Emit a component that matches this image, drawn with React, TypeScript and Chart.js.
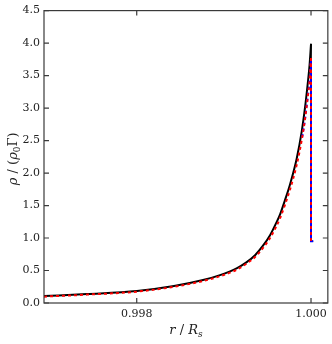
import React, { useEffect, useRef } from "react";
import { Chart, registerables } from "chart.js";

Chart.register(...registerables);

// r / R_s positions and density rho/(rho0 Gamma)
const rBlack = [0.996936, 0.99743, 0.998003, 0.998428, 0.998761, 0.998956, 0.999151, 0.999254, 0.999358, 0.999449, 0.99953, 0.999599, 0.999645, 0.999702, 0.999759, 0.999836, 0.999893, 0.999931, 0.999962, 0.999983, 1.0];
const rhoBlack = [0.107, 0.138, 0.184, 0.261, 0.353, 0.429, 0.537, 0.621, 0.736, 0.882, 1.043, 1.227, 1.365, 1.587, 1.825, 2.224, 2.638, 3.006, 3.374, 3.658, 3.988];

const rRed = [0.996936, 0.99743, 0.998003, 0.998428, 0.998761, 0.998956, 0.999151, 0.999254, 0.999358, 0.999449, 0.99953, 0.999599, 0.999645, 0.999702, 0.999759, 0.999836, 0.999893, 0.999931, 0.999962, 0.999983, 1.0];
const rhoRed = [0.098, 0.129, 0.175, 0.25, 0.339, 0.413, 0.515, 0.6, 0.707, 0.847, 1.0, 1.173, 1.305, 1.514, 1.747, 2.126, 2.506, 2.83, 3.167, 3.42, 3.77];

const rBlue = [0.999893, 0.999931, 0.999962, 0.999983, 1.0];
const rhoBlue = [2.506, 2.83, 3.167, 3.42, 3.77];

const rDrop = [1.0, 1.0, 1.000025];
const rhoDropBlack = [3.988, 0.95, 0.95];
const rhoDropRed = [3.77, 0.95, 0.95];

const xTicks = [0.998, 1.0];
const yTicks = [0, 0.5, 1, 1.5, 2, 2.5, 3, 3.5, 4, 4.5];
const xMin = 0.996936;
const xMax = 1.000193;

const pts = (xs: number[], ys: number[]) => xs.map((x, i) => ({ x, y: ys[i] }));

const FONT = "'DejaVu Serif', serif";

const framePlugin = {
  id: "frame",
  afterDraw(chart: any) {
    const { ctx, chartArea, scales } = chart;
    const { left, right, top, bottom } = chartArea;
    const x = scales.x;
    const y = scales.y;
    ctx.save();
    ctx.strokeStyle = "#3a3a3a";
    ctx.lineWidth = 1.2;
    ctx.strokeRect(left, top, right - left, bottom - top);
    const L = 5;
    ctx.beginPath();
    x.ticks.forEach((t: any) => {
      const px = x.getPixelForValue(t.value);
      ctx.moveTo(px, bottom);
      ctx.lineTo(px, bottom - L);
      ctx.moveTo(px, top);
      ctx.lineTo(px, top + L);
    });
    y.ticks.forEach((t: any) => {
      const py = y.getPixelForValue(t.value);
      ctx.moveTo(left, py);
      ctx.lineTo(left + L, py);
      ctx.moveTo(right, py);
      ctx.lineTo(right - L, py);
    });
    ctx.stroke();

    ctx.fillStyle = "#222";
    ctx.textBaseline = "alphabetic";
    const cx = (left + right) / 2;
    const by = 334;
    const parts: [string, string, number][] = [
      ["r", "italic 13px " + FONT, 0],
      [" / ", "13px " + FONT, 0],
      ["R", "italic 13px " + FONT, 0],
      ["s", "italic 9px " + FONT, 3],
    ];
    let total = 0;
    parts.forEach(([s, f]) => {
      ctx.font = f;
      total += ctx.measureText(s).width;
    });
    let xx = cx - total / 2;
    parts.forEach(([s, f, dy]) => {
      ctx.font = f;
      ctx.fillText(s, xx, by + dy);
      xx += ctx.measureText(s).width;
    });

    const yparts: [string, string, number][] = [
      ["ρ", "italic 13px " + FONT, 0],
      [" / (", "13px " + FONT, 0],
      ["ρ", "italic 13px " + FONT, 0],
      ["0", "9px " + FONT, 3],
      ["Γ)", "13px " + FONT, 0],
    ];
    let ytot = 0;
    yparts.forEach(([s, f]) => {
      ctx.font = f;
      ytot += ctx.measureText(s).width;
    });
    ctx.translate(17, (top + bottom) / 2 + 2);
    ctx.rotate(-Math.PI / 2);
    let yy = -ytot / 2;
    yparts.forEach(([s, f, dy]) => {
      ctx.font = f;
      ctx.fillText(s, yy, dy);
      yy += ctx.measureText(s).width;
    });
    ctx.restore();
  },
};

export default function App() {
  const ref = useRef<HTMLCanvasElement | null>(null);
  useEffect(() => {
    if (!ref.current) return;
    const dash = [3, 3];
    const curve = { pointRadius: 0, fill: false, cubicInterpolationMode: "monotone" };
    const straight = { pointRadius: 0, fill: false, tension: 0 };
    const chart = new Chart(ref.current, {
      type: "line",
      data: {
        datasets: [
          { ...curve, data: pts(rRed, rhoRed), borderColor: "#ff0000", borderWidth: 2, borderDash: dash },
          { ...straight, data: pts(rDrop, rhoDropRed), borderColor: "#ff0000", borderWidth: 2, borderDash: dash },
          { ...curve, data: pts(rBlue, rhoBlue), borderColor: "#0000ff", borderWidth: 2, borderDash: dash, borderDashOffset: 3 },
          { ...straight, data: pts(rDrop, rhoDropRed), borderColor: "#0000ff", borderWidth: 2, borderDash: dash, borderDashOffset: 3 },
          { ...curve, data: pts(rBlack, rhoBlack), borderColor: "#000000", borderWidth: 2 },
          { ...straight, data: pts(rDrop, rhoDropBlack), borderColor: "#000000", borderWidth: 1.6 },
        ],
      } as any,
      options: {
        responsive: false,
        animation: false,
        events: [],
        layout: { padding: { top: 10, right: 4, left: 0, bottom: 0 } },
        plugins: { legend: { display: false }, tooltip: { enabled: false } },
        scales: {
          x: {
            type: "linear",
            min: xMin,
            max: xMax,
            grid: { display: false, drawTicks: false },
            border: { display: false },
            afterBuildTicks: (s: any) => {
              s.ticks = xTicks.map((v) => ({ value: v }));
            },
            afterFit: (s: any) => {
              s.height = 41;
            },
            ticks: {
              padding: 5,
              color: "#222",
              font: { family: FONT, size: 11 },
              maxRotation: 0,
              callback: (v: any) => Number(v).toFixed(3),
            },
          },
          y: {
            type: "linear",
            min: 0,
            max: 4.5,
            grid: { display: false, drawTicks: false },
            border: { display: false },
            afterBuildTicks: (s: any) => {
              s.ticks = yTicks.map((v) => ({ value: v }));
            },
            afterFit: (s: any) => {
              s.width = 44;
            },
            ticks: {
              padding: 4,
              color: "#222",
              font: { family: FONT, size: 11 },
              callback: (v: any) => Number(v).toFixed(1),
            },
          },
        },
      } as any,
      plugins: [framePlugin],
    });
    return () => chart.destroy();
  }, []);
  return (
    <div style={{ position: "fixed", left: 0, top: 0, width: 332, height: 344, background: "#fff" }}>
      <canvas ref={ref} width={332} height={344} style={{ display: "block" }} />
    </div>
  );
}
